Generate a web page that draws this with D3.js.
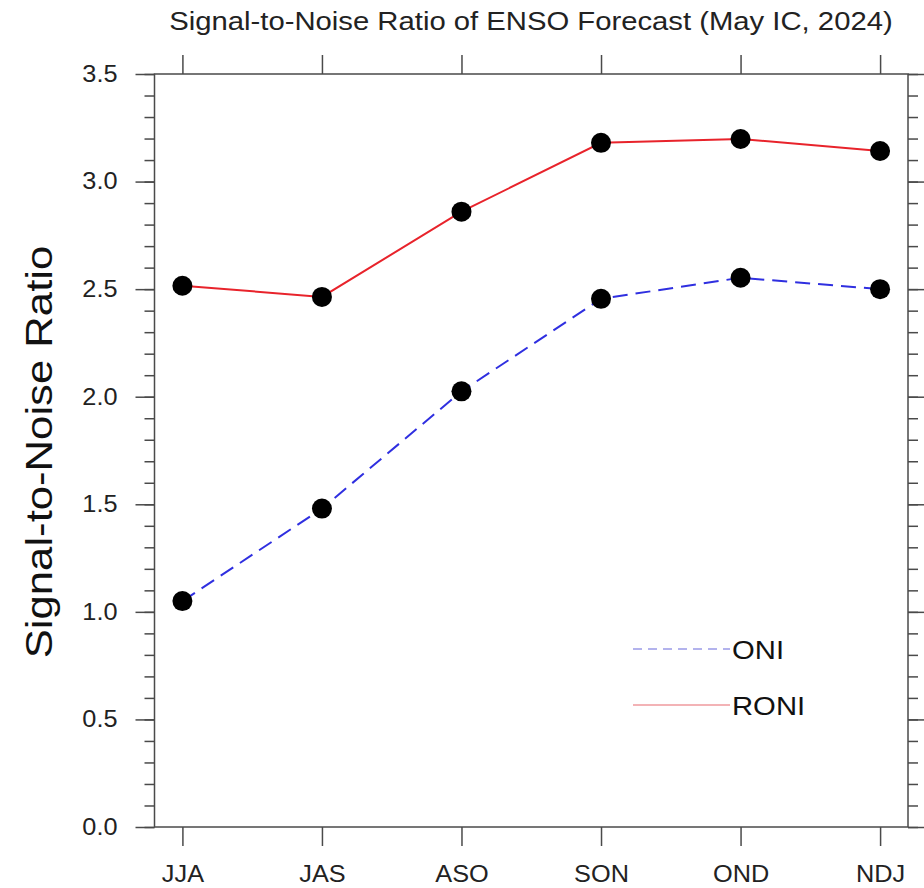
<!DOCTYPE html>
<html>
<head>
<meta charset="utf-8">
<script src="https://cdn.jsdelivr.net/npm/d3@7"></script>
<style>
  body { margin: 0; background: #fff; }
  text { font-family: "Liberation Sans", Arial, Helvetica, sans-serif; }
</style>
</head>
<body>
<script>
let width = 924, height = 888;

// data
let seasons = ["JJA", "JAS", "ASO", "SON", "OND", "NDJ"];
let oni  = [1.05, 1.48, 2.025, 2.455, 2.553, 2.50];
let roni = [2.516, 2.464, 2.86, 3.18, 3.198, 3.142];
let yTicks = [0.0, 0.5, 1.0, 1.5, 2.0, 2.5, 3.0, 3.5];

let margin = {top: 74, right: 16, bottom: 61, left: 154.5};

let svg = d3.select("body").append("svg")
    .attr("width", width)
    .attr("height", height);

let x = d3.scaleLinear()
    .domain([-0.2, seasons.length - 0.8])
    .range([margin.left, width - margin.right]);

let y = d3.scaleLinear()
    .domain([0, 3.5])
    .range([height - margin.bottom, margin.top]);

let axisColor = "#4a4a4a";
let minor = d3.range(0, 3.5001, 0.1);

// the reference font is a bit wider than Arial, stretch glyphs horizontally
function stretch(sel, k) {
  sel.each(function() {
    let len = this.getComputedTextLength();
    if (len > 0) {
      d3.select(this)
        .attr("textLength", len * k)
        .attr("lengthAdjust", "spacingAndGlyphs");
    }
  });
}

// frame
svg.append("rect")
    .attr("x", x.range()[0])
    .attr("y", y.range()[1])
    .attr("width", x.range()[1] - x.range()[0])
    .attr("height", y.range()[0] - y.range()[1])
    .attr("fill", "none")
    .attr("stroke", axisColor)
    .attr("stroke-width", 1.5);

function styleAxis(g) {
  g.select(".domain").remove();
  g.selectAll(".tick line").attr("stroke", axisColor).attr("stroke-width", 1.5);
  g.selectAll(".tick text").attr("fill", "#222").style("font-size", "23px")
    .style("font-family", "'Liberation Sans', Arial, sans-serif")
    .call(stretch, 1.1);
}

// bottom axis
svg.append("g")
    .attr("transform", `translate(0,${y.range()[0]})`)
    .call(d3.axisBottom(x).tickValues(d3.range(seasons.length))
      .tickFormat(i => seasons[i]).tickSize(19).tickPadding(20))
    .call(styleAxis);

// top axis (ticks only)
svg.append("g")
    .attr("transform", `translate(0,${y.range()[1]})`)
    .call(d3.axisTop(x).tickValues(d3.range(seasons.length))
      .tickFormat("").tickSize(19))
    .call(styleAxis);

// left axis minor + major
svg.append("g")
    .attr("transform", `translate(${x.range()[0]},0)`)
    .call(d3.axisLeft(y).tickValues(minor).tickFormat("").tickSize(10))
    .call(styleAxis);
svg.append("g")
    .attr("transform", `translate(${x.range()[0]},0)`)
    .call(d3.axisLeft(y).tickValues(yTicks).tickFormat(d3.format(".1f"))
      .tickSize(19).tickPadding(18))
    .call(styleAxis);

// right axis minor + major
svg.append("g")
    .attr("transform", `translate(${x.range()[1]},0)`)
    .call(d3.axisRight(y).tickValues(minor).tickFormat("").tickSize(10))
    .call(styleAxis);
svg.append("g")
    .attr("transform", `translate(${x.range()[1]},0)`)
    .call(d3.axisRight(y).tickValues(yTicks).tickFormat("").tickSize(19))
    .call(styleAxis);

// lines
let line = d3.line()
    .x((d, i) => x(i))
    .y(d => y(d));

svg.append("path")
    .datum(oni)
    .attr("fill", "none")
    .attr("stroke", "#2f2fe0")
    .attr("stroke-width", 2)
    .attr("stroke-dasharray", "15,8")
    .attr("d", line);

svg.append("path")
    .datum(roni)
    .attr("fill", "none")
    .attr("stroke", "#e8232b")
    .attr("stroke-width", 2)
    .attr("d", line);

// markers
[oni, roni].forEach(s => {
  svg.append("g").selectAll("circle")
    .data(s)
    .enter().append("circle")
      .attr("cx", (d, i) => x(i))
      .attr("cy", d => y(d))
      .attr("r", 10)
      .attr("fill", "#000");
});

// legend
let legend = [
  {name: "ONI", color: "#9a9ae8", dash: "9,6", ly: 649},
  {name: "RONI", color: "#ef9a9e", dash: null, ly: 705}
];
legend.forEach(d => {
  svg.append("line")
    .attr("x1", 633).attr("x2", 730)
    .attr("y1", d.ly).attr("y2", d.ly)
    .attr("stroke", d.color)
    .attr("stroke-width", 1.5)
    .attr("stroke-dasharray", d.dash);
  svg.append("text")
    .attr("x", 732).attr("y", d.ly + 10)
    .attr("fill", "#111")
    .style("font-size", "25px")
    .text(d.name)
    .call(stretch, 1.17);
});

// title
svg.append("text")
    .attr("x", 531)
    .attr("y", 30)
    .attr("text-anchor", "middle")
    .attr("fill", "#222")
    .style("font-size", "25px")
    .text("Signal-to-Noise Ratio of ENSO Forecast (May IC, 2024)")
    .call(stretch, 1.17);

// y label
svg.append("text")
    .attr("transform", "translate(52,452) rotate(-90)")
    .attr("text-anchor", "middle")
    .attr("fill", "#111")
    .style("font-size", "37px")
    .text("Signal-to-Noise Ratio")
    .call(stretch, 1.18);
</script>
</body>
</html>
